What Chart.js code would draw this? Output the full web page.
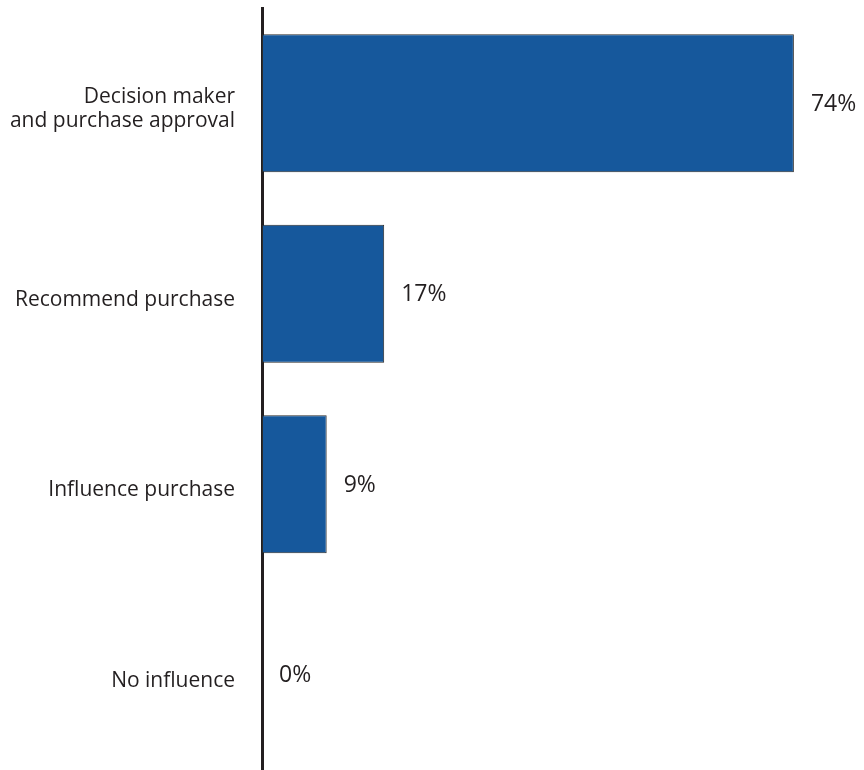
<!DOCTYPE html>
<html>
<head>
<meta charset="utf-8">
<script src="https://cdn.jsdelivr.net/npm/chart.js@4/dist/chart.umd.min.js"></script>
<style>
  html, body { margin: 0; padding: 0; background: #fff; }
  #wrap { width: 864px; height: 770px; position: relative; }
</style>
</head>
<body>
<div id="wrap"><canvas id="roleChart"></canvas></div>
<script>
var roles = [['Decision maker', 'and purchase approval'], 'Recommend purchase', 'Influence purchase', 'No influence'];
var shares = [74, 17, 9, 0];

// percent text to the right of each bar
var valueLabels = {
  id: 'valueLabels',
  afterDatasetsDraw: function (chart) {
    var ctx = chart.ctx;
    var meta = chart.getDatasetMeta(0);
    ctx.save();
    ctx.font = '23px "Open Sans", sans-serif';
    ctx.fillStyle = '#231f20';
    ctx.textAlign = 'left';
    ctx.textBaseline = 'middle';
    meta.data.forEach(function (bar, i) {
      ctx.fillText(shares[i] + '%', bar.x + 17, bar.y + 1);
    });
    ctx.restore();
  }
};

var ctx = document.getElementById('roleChart').getContext('2d');
var roleChart = new Chart(ctx, {
  type: 'bar',
  data: {
    labels: roles,
    datasets: [{
      data: shares,
      backgroundColor: '#16589c',
      borderColor: '#2b2b2b',
      borderWidth: 1,
      borderSkipped: false,
      categoryPercentage: 0.725,
      barPercentage: 1
    }]
  },
  options: {
    indexAxis: 'y',
    responsive: true,
    maintainAspectRatio: false,
    animation: false,
    layout: { padding: { top: 8, right: 27, bottom: -2, left: 0 } },
    plugins: {
      legend: { display: false },
      tooltip: { enabled: false }
    },
    scales: {
      x: { display: false, min: 0, max: 80 },
      y: {
        grid: { display: false, drawTicks: false },
        border: { display: true, color: '#231f20', width: 3 },
        ticks: {
          color: '#231f20',
          padding: 27,
          labelOffset: 6,
          font: { family: '"Open Sans", sans-serif', size: 21, lineHeight: 1.12 }
        },
        afterFit: function (scale) {
          scale.width = 262;
          scale.paddingTop = 0;
          scale.paddingBottom = 0;
        }
      }
    }
  },
  plugins: [valueLabels]
});
</script>
</body>
</html>
